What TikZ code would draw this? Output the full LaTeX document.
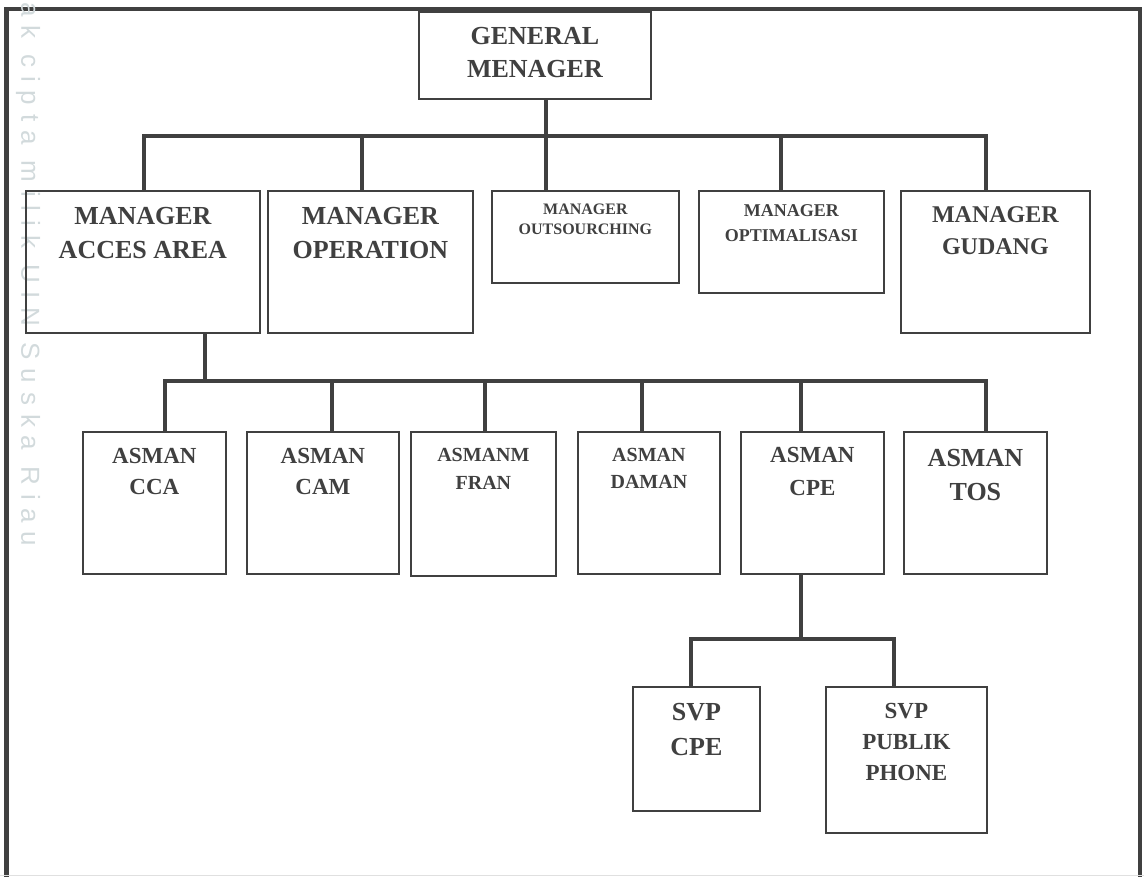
\documentclass[tikz,border=0pt]{standalone}
\usepackage{fontspec}
\setmainfont{Liberation Serif}
\setsansfont{Liberation Sans}
\usetikzlibrary{positioning}

\definecolor{ink} {RGB}{64,64,64}
\definecolor{wmark}{RGB}{210,218,220}

\newcommand\boxfont[2]{\fontsize{#1pt}{#2pt}\selectfont\bfseries}

\begin{document}
\begin{tikzpicture}[x=1pt,y=-1pt,
    box/.style={draw=ink,line width=1.8pt,inner sep=0pt,anchor=north west},
    lbl/.style={text=ink,align=center,inner sep=0pt},
    link/.style={draw=ink,line width=3.5pt}]

    \useasboundingbox (0,0) rectangle (1144,877);

    % frame and watermark
    \draw[ink,line width=4.5pt] (6.5,877) -- (6.5,9) -- (1140,9) -- (1140,877);
    \draw[black!12,line width=1pt] (0,875.5) -- (1144,875.5);
    \node[rotate=-90,anchor=west,inner sep=0pt,text=wmark,
          font=\sffamily\addfontfeature{LetterSpace=34}\fontsize{26pt}{26pt}\selectfont]
          (wm) at (28,2) {ak cipta milik UIN Suska Riau};

    % top
    \node[box,minimum width=232pt,minimum height=87pt] (gm) at (418,11) {};
    \node[lbl,font=\boxfont{26}{33},below=16pt of gm.north] (gm-t) {GENERAL\\MENAGER};

    % managers
    \node[box,minimum width=234pt,minimum height=142pt] (maa)  at (25,190)  {};
    \node[box,minimum width=205pt,minimum height=142pt] (mo)   at (267,190) {};
    \node[box,minimum width=187pt,minimum height=92pt]  (mout) at (491,190) {};
    \node[box,minimum width=185pt,minimum height=102pt] (mopt) at (698,190) {};
    \node[box,minimum width=189pt,minimum height=142pt] (mg)   at (900,190) {};

    \node[lbl,font=\boxfont{26}{34},below=17pt of maa.north]  (maa-t)  {MANAGER\\ACCES AREA};
    \node[lbl,font=\boxfont{26}{34},below=17pt of mo.north]   (mo-t)   {MANAGER\\OPERATION};
    \node[lbl,font=\boxfont{16}{20},below=14pt of mout.north] (mout-t) {MANAGER\\OUTSOURCHING};
    \node[lbl,font=\boxfont{18}{25},below=14pt of mopt.north] (mopt-t) {MANAGER\\OPTIMALISASI};
    \node[lbl,font=\boxfont{24}{32},below=16pt of mg.north]   (mg-t)   {MANAGER\\GUDANG};

    % asman
    \node[box,minimum width=143pt,minimum height=142pt] (cca)   at (82,431)  {};
    \node[box,minimum width=152pt,minimum height=142pt] (cam)   at (246,431) {};
    \node[box,minimum width=145pt,minimum height=144pt] (fran)  at (410,431) {};
    \node[box,minimum width=142pt,minimum height=142pt] (daman) at (577,431) {};
    \node[box,minimum width=143pt,minimum height=142pt] (cpe)   at (740,431) {};
    \node[box,minimum width=143pt,minimum height=142pt] (tos)   at (903,431) {};

    \node[lbl,font=\boxfont{23}{31},below=17pt of cca.north]   (cca-t)   {ASMAN\\CCA};
    \node[lbl,font=\boxfont{23}{31},below=17pt of cam.north]   (cam-t)   {ASMAN\\CAM};
    \node[lbl,font=\boxfont{20}{28},below=17pt of fran.north]  (fran-t)  {ASMANM\\FRAN};
    \node[lbl,font=\boxfont{20}{27},below=17pt of daman.north] (daman-t) {ASMAN\\DAMAN};
    \node[lbl,font=\boxfont{23}{33},below=16pt of cpe.north]   (cpe-t)   {ASMAN\\CPE};
    \node[lbl,font=\boxfont{26}{34},below=18pt of tos.north]   (tos-t)   {ASMAN\\TOS};

    % svp
    \node[box,minimum width=127pt,minimum height=124pt] (svpc) at (632,686) {};
    \node[box,minimum width=161pt,minimum height=146pt] (svpp) at (825,686) {};

    \node[lbl,font=\boxfont{26}{35},below=17pt of svpc.north] (svpc-t) {SVP\\CPE};
    \node[lbl,font=\boxfont{23}{31},below=17pt of svpp.north] (svpp-t) {SVP\\PUBLIK\\PHONE};

    % links, level 1
    \coordinate (bar1) at (546,136);
    \foreach \n/\x in {maa/144,mo/362,mopt/781,mg/986}
        \coordinate (\n-up) at (\x,136);
    \draw[link] (maa.north -| maa-up) -- (maa-up) -- (mg-up) -- (mg.north -| mg-up);
    \draw[link] (gm.south -| bar1) -- (mout.north -| bar1);
    \draw[link] (mo-up) -- (mo.north -| mo-up);
    \draw[link] (mopt-up) -- (mopt.north -| mopt-up);

    % links, level 2
    \coordinate (bar2) at (205,381);
    \foreach \n/\x in {cca/165,cam/332,fran/485,daman/642,cpe/801,tos/986}
        \coordinate (\n-up) at (\x,381);
    \draw[link] (maa.south -| bar2) -- (bar2);
    \draw[link] (cca.north -| cca-up) -- (cca-up) -- (tos-up) -- (tos.north -| tos-up);
    \foreach \n in {cam,fran,daman,cpe}
        \draw[link] (\n-up) -- (\n.north -| \n-up);

    % links, level 3
    \coordinate (bar3) at (801,639);
    \coordinate (svpc-up) at (691,639);
    \coordinate (svpp-up) at (894,639);
    \draw[link] (cpe.south -| bar3) -- (bar3);
    \draw[link] (svpc.north -| svpc-up) -- (svpc-up) -- (svpp-up) -- (svpp.north -| svpp-up);

\end{tikzpicture}
\end{document}
